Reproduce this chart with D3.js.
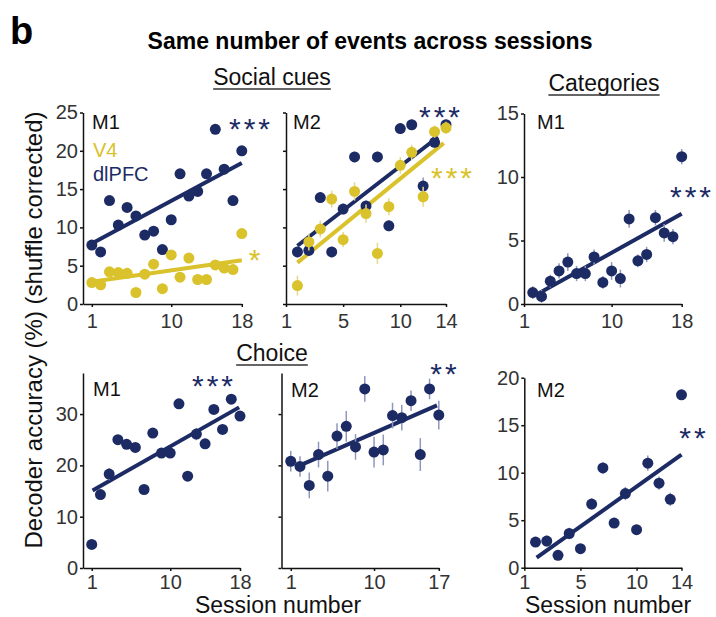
<!DOCTYPE html>
<html>
<head>
<meta charset="utf-8">
<script src="https://cdn.jsdelivr.net/npm/d3@7"></script>
<style>
  body { margin: 0; background: #fff; }
  svg { display: block; font-family: "Liberation Sans", Arial, sans-serif; }
  .axis { font-family: "Liberation Sans", Arial, sans-serif; }
  .axis path, .axis line { stroke: #111; stroke-width: 1.5; }
  .axis text { font-size: 20px; fill: #333; }
  .fit { fill: none; stroke-width: 4; stroke-linecap: butt; }
  .err { stroke-width: 1.5; }
</style>
</head>
<body>
<svg width="716" height="617"></svg>
<script>
// colours of the two areas
const navy = "#1d2b65";
const gold = "#d9c22b";
const navyErr = "#8f97bd";
const goldErr = "#e6d88a";

// session numbers
const sessions18 = [1, 2, 3, 4, 5, 6, 7, 8, 9, 10, 11, 12, 13, 14, 15, 16, 17, 18];
const sessions17 = [1, 2, 3, 4, 5, 6, 7, 8, 9, 10, 11, 12, 13, 14, 15, 16, 17];
const sessions14 = [1, 2, 3, 4, 5, 6, 7, 8, 9, 10, 11, 12, 13, 14];

// Social cues, M1 (dlPFC + V4)
const socialM1Dlpfc = [7.7, 6.8, 13.5, 10.3, 12.6, 11.5, 9.0, 9.5, 7.1, 11.0, 17.0, 14.1, 14.7, 17.0, 22.8, 17.6, 13.5, 20.0];
const socialM1DlpfcErr = [0.5, 0.5, 0.5, 0.5, 0.5, 0.5, 0.5, 0.5, 0.5, 0.5, 0.5, 0.5, 0.5, 0.5, 0.5, 0.5, 0.5, 0.5];
const socialM1V4 = [2.8, 2.5, 4.2, 4.1, 4.0, 1.5, 3.9, 5.2, 2.0, 6.4, 3.5, 6.0, 3.2, 3.2, 5.1, 4.7, 4.5, 9.2];
const socialM1V4Err = [0.5, 0.5, 0.5, 0.5, 0.5, 0.5, 0.5, 0.5, 0.5, 0.5, 0.5, 0.5, 0.5, 0.5, 0.5, 0.5, 0.5, 0.5];
const fitSocialM1Dlpfc = [[1, 7.9], [18, 18.4]];
const fitSocialM1V4 = [[1, 2.9], [18, 5.7]];

// Social cues, M2
const socialM2Dlpfc = [6.8, 7.0, 13.9, 6.8, 12.4, 19.2, 12.8, 19.2, 10.2, 22.9, 23.4, 15.4, 21.1, 23.4];
const socialM2DlpfcErr = [0.7, 0.7, 0.7, 0.7, 0.7, 0.7, 0.7, 0.7, 0.7, 0.7, 0.7, 1.1, 0.7, 0.7];
const socialM2V4 = [2.4, 8.1, 9.8, 13.7, 8.4, 14.7, 11.8, 6.6, 12.7, 18.1, 19.8, 14.0, 22.5, 23.0];
const socialM2V4Err = [1.3, 1.1, 1.1, 1.1, 1.0, 1.2, 1.2, 1.4, 1.1, 1.1, 1.0, 1.3, 0.8, 0.8];
const fitSocialM2Dlpfc = [[1, 7.6], [13.3, 21.8]];
const fitSocialM2V4 = [[1, 5.4], [13.8, 21.0]];

// Categories, M1 and M2 (dlPFC)
const catM1 = [0.9, 0.6, 1.8, 2.6, 3.3, 2.4, 2.4, 3.7, 1.7, 2.6, 2.0, 6.7, 3.4, 3.9, 6.8, 5.6, 5.3, 11.6];
const catM1Err = [0.5, 0.5, 0.5, 0.6, 0.7, 0.6, 0.6, 0.6, 0.5, 0.7, 0.7, 0.7, 0.5, 0.6, 0.6, 0.7, 0.6, 0.6];
const fitCatM1 = [[1.7, 0.85], [18, 7.1]];
const catM2 = [2.7, 2.8, 1.3, 3.6, 2.0, 6.7, 10.5, 4.7, 7.8, 4.0, 11.0, 8.9, 7.2, 18.2];
const catM2Err = [0.5, 0.6, 0.5, 0.6, 0.5, 0.6, 0.6, 0.5, 0.7, 0.5, 0.8, 0.7, 0.7, 0.5];
const fitCatM2 = [[1.1, 1.05], [14, 11.9]];

// Choice, M1 and M2 (dlPFC)
const choiceM1 = [4.6, 14.3, 18.3, 25.0, 24.1, 23.5, 15.3, 26.3, 22.4, 22.4, 32.0, 17.9, 26.1, 24.2, 30.9, 27.0, 32.9, 29.6];
const choiceM1Err = [0.8, 0.8, 1.2, 0.8, 0.8, 0.8, 0.8, 0.8, 0.8, 0.8, 0.8, 0.8, 1.2, 0.8, 0.8, 0.8, 0.8, 0.8];
const fitChoiceM1 = [[1.1, 15.1], [17.9, 31.3]];
const choiceM2 = [20.8, 19.8, 16.1, 22.1, 17.9, 25.7, 27.6, 23.6, 34.9, 22.6, 23.0, 29.7, 29.3, 32.6, 22.1, 34.9, 29.8];
const choiceM2Err = [2.0, 2.0, 2.5, 2.5, 3.0, 2.5, 3.0, 2.5, 2.5, 3.0, 3.0, 2.5, 2.5, 2.0, 3.2, 2.0, 2.8];
const fitChoiceM2 = [[2, 20.0], [16.8, 31.7]];

// tick values and labels
const yTicks25 = [0, 5, 10, 15, 20, 25];
const yTicks15 = [0, 5, 10, 15];
const yTicks20 = [0, 5, 10, 15, 20];
const yTicks30 = [0, 10, 20, 30];
const xTicks18 = [1, 10, 18];
const xTicks18b = [0, 10, 18];
const xTicks17 = [1, 10, 17];
const xTicks14 = [0, 5, 10, 14];
const xLabels18 = ["1", "10", "18"];
const xLabels17 = ["1", "10", "17"];
const xLabels14 = ["1", "5", "10", "14"];

let svg = d3.select("svg");

function translate(x, y) {
  return `translate(${x},${y})`;
}

function series(x, y, err, fit, color, errColor) {
  return { x: x, y: y, err: err, fit: fit, color: color, errColor: errColor };
}

let panels = [
  { // Social cues M1
    xDomain: [0, 18], xRange: [83, 241.8], yDomain: [0, 25], yRange: [304, 112.5],
    yTicks: yTicks25, yLabels: true, xTicks: xTicks18, xLabels: xLabels18, xPad: 7,
    label: "M1", labelPos: [92, 129],
    series: [series(sessions18, socialM1Dlpfc, socialM1DlpfcErr, fitSocialM1Dlpfc, navy, navyErr),
             series(sessions18, socialM1V4, socialM1V4Err, fitSocialM1V4, gold, goldErr)],
    stars: [{ t: "***", x: 251, y: 122, c: navy }, { t: "*", x: 256, y: 253, c: gold }]
  },
  { // Social cues M2
    xDomain: [0, 14], xRange: [286, 446], yDomain: [0, 25], yRange: [304, 112.5],
    yTicks: yTicks25, yLabels: false, xTicks: xTicks14, xLabels: xLabels14, xPad: 7,
    label: "M2", labelPos: [293, 129],
    series: [series(sessions14, socialM2Dlpfc, socialM2DlpfcErr, fitSocialM2Dlpfc, navy, navyErr),
             series(sessions14, socialM2V4, socialM2V4Err, fitSocialM2V4, gold, goldErr)],
    stars: [{ t: "***", x: 441, y: 110, c: navy }, { t: "***", x: 453, y: 171, c: gold }]
  },
  { // Categories M1
    xDomain: [0, 18], xRange: [524, 681.7], yDomain: [0, 15], yRange: [304, 113.5],
    yTicks: yTicks15, yLabels: true, xTicks: xTicks18b, xLabels: xLabels18, xPad: 7,
    label: "M1", labelPos: [537, 129],
    series: [series(sessions18, catM1, catM1Err, fitCatM1, navy, navyErr)],
    stars: [{ t: "***", x: 692, y: 190, c: navy }]
  },
  { // Choice M1
    xDomain: [0, 18], xRange: [83, 240], yDomain: [0, 38], yRange: [568, 373],
    yTicks: yTicks30, yLabels: true, xTicks: xTicks18, xLabels: xLabels18, xPad: 4,
    label: "M1", labelPos: [93, 396],
    series: [series(sessions18, choiceM1, choiceM1Err, fitChoiceM1, navy, navyErr)],
    stars: [{ t: "***", x: 214, y: 379, c: navy }]
  },
  { // Choice M2
    xDomain: [0, 17], xRange: [281.5, 438.8], yDomain: [0, 38], yRange: [568, 373],
    yTicks: yTicks30, yLabels: false, xTicks: xTicks17, xLabels: xLabels17, xPad: 4,
    label: "M2", labelPos: [291, 397],
    series: [series(sessions17, choiceM2, choiceM2Err, fitChoiceM2, navy, navyErr)],
    stars: [{ t: "**", x: 445, y: 367, c: navy }]
  },
  { // Categories M2
    xDomain: [0, 14], xRange: [524.3, 681.5], yDomain: [0, 20], yRange: [567.7, 377.7],
    yTicks: yTicks20, yLabels: true, xTicks: xTicks14, xLabels: xLabels14, xPad: 4,
    label: "M2", labelPos: [537, 397],
    series: [series(sessions14, catM2, catM2Err, fitCatM2, navy, navyErr)],
    stars: [{ t: "**", x: 694, y: 431, c: navy }]
  }
];

panels.forEach(drawPanel);

function drawPanel(p) {
  let x = d3.scaleLinear().domain(p.xDomain).range(p.xRange);
  let y = d3.scaleLinear().domain(p.yDomain).range(p.yRange);
  let g = svg.append("g");

  g.append("g")
    .attr("class", "axis")
    .attr("transform", translate(p.xRange[0], 0))
    .call(d3.axisLeft(y).tickValues(p.yTicks).tickSize(3).tickSizeOuter(0).tickPadding(2)
      .tickFormat(p.yLabels ? d3.format("d") : ""));

  g.append("g")
    .attr("class", "axis")
    .attr("transform", translate(0, p.yRange[0]))
    .call(d3.axisBottom(x).tickValues(p.xTicks).tickSize(3).tickSizeOuter(0).tickPadding(p.xPad)
      .tickFormat((d, i) => p.xLabels[i]));

  let line = d3.line().x(d => x(d[0])).y(d => y(d[1]));

  // fit lines first, dots go on top
  p.series.forEach(s => {
    g.append("path").attr("class", "fit").attr("d", line(s.fit)).attr("stroke", s.color);
  });

  p.series.forEach(s => {
    let pts = s.x.map((v, i) => ({ x: v, y: s.y[i], e: s.err[i] }));
    g.append("g").selectAll("line")
      .data(pts)
      .enter()
      .append("line")
      .attr("class", "err")
      .attr("x1", d => x(d.x)).attr("x2", d => x(d.x))
      .attr("y1", d => y(d.y - d.e)).attr("y2", d => y(d.y + d.e))
      .attr("stroke", s.errColor);
    g.append("g").selectAll("circle")
      .data(pts)
      .enter()
      .append("circle")
      .attr("cx", d => x(d.x))
      .attr("cy", d => y(d.y))
      .attr("r", 5.5)
      .attr("fill", s.color);
  });

  g.append("text")
    .attr("x", p.labelPos[0]).attr("y", p.labelPos[1])
    .attr("font-size", 20).attr("fill", "#111")
    .text(p.label);

  // significance stars, y is the visual centre
  p.stars.forEach(s => {
    g.append("text")
      .attr("x", s.x).attr("y", s.y + 17)
      .attr("text-anchor", "middle")
      .attr("font-size", 30).attr("letter-spacing", 3)
      .attr("fill", s.c)
      .text(s.t);
  });
}

// area legend in the first panel
svg.append("text").attr("x", 93).attr("y", 157).attr("font-size", 20).attr("fill", gold).text("V4");
svg.append("text").attr("x", 93).attr("y", 181).attr("font-size", 20).attr("fill", navy).text("dlPFC");

// headings
svg.append("text").attr("x", 10).attr("y", 44).attr("font-size", 38).attr("font-weight", "bold").text("b");
svg.append("text").attr("x", 370).attr("y", 49).attr("text-anchor", "middle")
  .attr("font-size", 23).attr("font-weight", "bold").text("Same number of events across sessions");

function underlined(txt, cx, base) {
  let t = svg.append("text").attr("x", cx).attr("y", base).attr("text-anchor", "middle")
    .attr("font-size", 23).attr("fill", "#111").text(txt);
  let w = t.node().getComputedTextLength();
  svg.append("line")
    .attr("x1", cx - w / 2).attr("x2", cx + w / 2)
    .attr("y1", base + 4).attr("y2", base + 4)
    .attr("stroke", "#333").attr("stroke-width", 1.5);
}
underlined("Social cues", 272, 85);
underlined("Categories", 604, 91);
underlined("Choice", 272, 361);

// axis titles
svg.append("text")
  .attr("transform", translate(42, 330) + " rotate(-90)")
  .attr("text-anchor", "middle").attr("font-size", 24).attr("fill", "#111")
  .text("Decoder accuracy (%) (shuffle corrected)");
svg.append("text").attr("x", 278).attr("y", 613).attr("text-anchor", "middle")
  .attr("font-size", 23).attr("fill", "#111").text("Session number");
svg.append("text").attr("x", 608).attr("y", 613).attr("text-anchor", "middle")
  .attr("font-size", 23).attr("fill", "#111").text("Session number");
</script>
</body>
</html>
